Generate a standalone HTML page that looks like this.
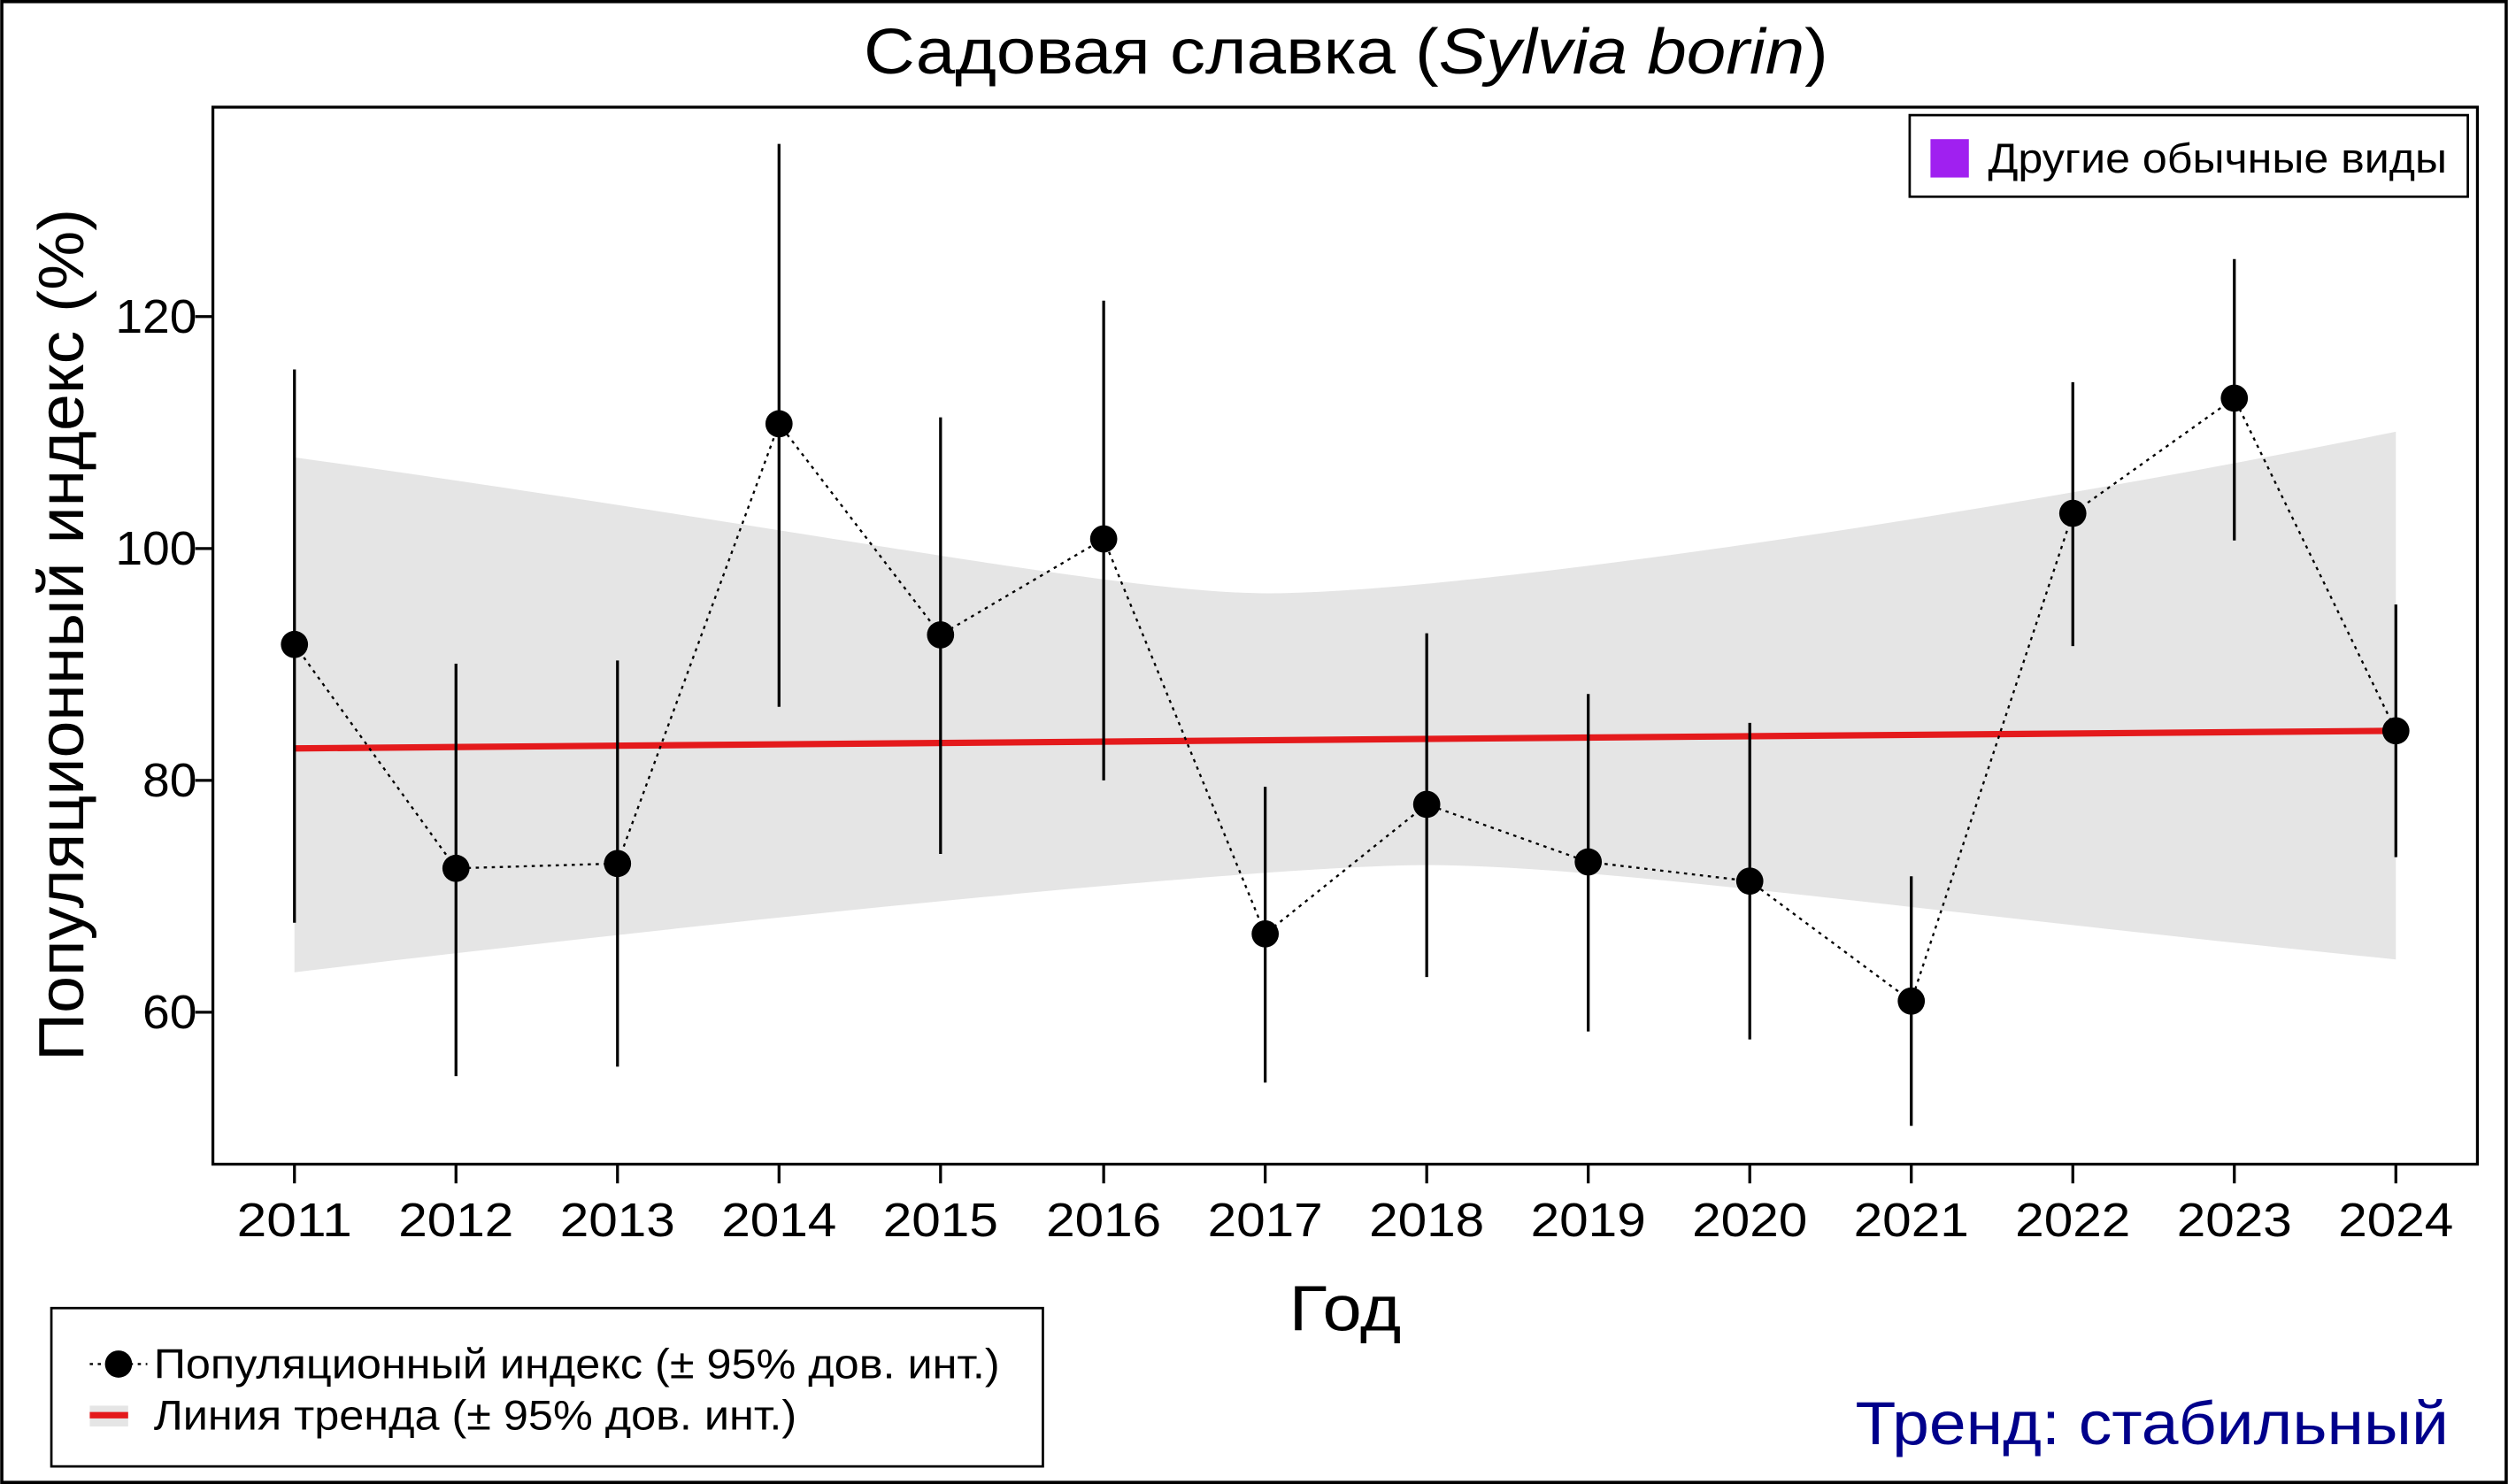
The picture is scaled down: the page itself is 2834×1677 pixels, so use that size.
<!DOCTYPE html>
<html><head><meta charset="utf-8"><style>html,body{margin:0;padding:0;background:#fff}svg{display:block}</style></head>
<body>
<svg xmlns="http://www.w3.org/2000/svg" width="2834" height="1677" viewBox="0 0 1568 928" font-family="Liberation Sans, DejaVu Sans, sans-serif">
<rect x="0" y="0" width="1568" height="928" fill="#fff"/>
<rect x="1" y="1" width="1566" height="926" fill="none" stroke="#000" stroke-width="2"/>
<text x="540" y="46" font-size="40" textLength="603" lengthAdjust="spacingAndGlyphs">Садовая славка (<tspan font-style="italic">Sylvia borin</tspan>)</text>
<path d="M184,286 C500,330 700,371 792,371 C900,371 1200,330 1498,270 L1498,600 C1200,570 1000,541 892,541 C800,541 500,570 184,608 Z" fill="#e5e5e5"/>
<line x1="184" y1="468" x2="1498" y2="457" stroke="#e41a1c" stroke-width="4"/>
<polyline points="184,403 285,543 386,540 487,265 588,397 690,337 791,584 892,503 993,539 1094,551 1195,626 1296,321 1397,249 1498,457" fill="none" stroke="#000" stroke-width="1.3" stroke-dasharray="2,3"/>
<g stroke="#000" stroke-width="1.8">
<line x1="184" y1="231" x2="184" y2="577"/>
<line x1="285" y1="415" x2="285" y2="673"/>
<line x1="386" y1="413" x2="386" y2="667"/>
<line x1="487" y1="90" x2="487" y2="442"/>
<line x1="588" y1="261" x2="588" y2="534"/>
<line x1="690" y1="188" x2="690" y2="488"/>
<line x1="791" y1="492" x2="791" y2="677"/>
<line x1="892" y1="396" x2="892" y2="611"/>
<line x1="993" y1="434" x2="993" y2="645"/>
<line x1="1094" y1="452" x2="1094" y2="650"/>
<line x1="1195" y1="548" x2="1195" y2="704"/>
<line x1="1296" y1="239" x2="1296" y2="404"/>
<line x1="1397" y1="162" x2="1397" y2="338"/>
<line x1="1498" y1="378" x2="1498" y2="536"/>
</g>
<g fill="#000">
<circle cx="184" cy="403" r="8.5"/><circle cx="285" cy="543" r="8.5"/><circle cx="386" cy="540" r="8.5"/><circle cx="487" cy="265" r="8.5"/><circle cx="588" cy="397" r="8.5"/><circle cx="690" cy="337" r="8.5"/><circle cx="791" cy="584" r="8.5"/><circle cx="892" cy="503" r="8.5"/><circle cx="993" cy="539" r="8.5"/><circle cx="1094" cy="551" r="8.5"/><circle cx="1195" cy="626" r="8.5"/><circle cx="1296" cy="321" r="8.5"/><circle cx="1397" cy="249" r="8.5"/><circle cx="1498" cy="457" r="8.5"/>
</g>
<rect x="133" y="67" width="1416" height="661" fill="none" stroke="#000" stroke-width="1.8"/>
<g stroke="#000" stroke-width="1.8">
<line x1="122" y1="198" x2="133" y2="198"/><line x1="122" y1="343" x2="133" y2="343"/><line x1="122" y1="488" x2="133" y2="488"/><line x1="122" y1="633" x2="133" y2="633"/>
</g>
<g font-size="30" text-anchor="end">
<text x="123" y="208" textLength="51" lengthAdjust="spacingAndGlyphs">120</text><text x="123" y="353" textLength="51" lengthAdjust="spacingAndGlyphs">100</text><text x="123" y="498" textLength="34" lengthAdjust="spacingAndGlyphs">80</text><text x="123" y="643" textLength="34" lengthAdjust="spacingAndGlyphs">60</text>
</g>
<text transform="translate(52,397) rotate(-90)" font-size="40" text-anchor="middle" textLength="533" lengthAdjust="spacingAndGlyphs">Популяционный индекс (%)</text>
<g stroke="#000" stroke-width="1.8">
<line x1="184" y1="728" x2="184" y2="740"/><line x1="285" y1="728" x2="285" y2="740"/><line x1="386" y1="728" x2="386" y2="740"/><line x1="487" y1="728" x2="487" y2="740"/><line x1="588" y1="728" x2="588" y2="740"/><line x1="690" y1="728" x2="690" y2="740"/><line x1="791" y1="728" x2="791" y2="740"/><line x1="892" y1="728" x2="892" y2="740"/><line x1="993" y1="728" x2="993" y2="740"/><line x1="1094" y1="728" x2="1094" y2="740"/><line x1="1195" y1="728" x2="1195" y2="740"/><line x1="1296" y1="728" x2="1296" y2="740"/><line x1="1397" y1="728" x2="1397" y2="740"/><line x1="1498" y1="728" x2="1498" y2="740"/>
</g>
<g font-size="30" text-anchor="middle" lengthAdjust="spacingAndGlyphs">
<text x="184" y="773" textLength="72" lengthAdjust="spacingAndGlyphs">2011</text><text x="285" y="773" textLength="72" lengthAdjust="spacingAndGlyphs">2012</text><text x="386" y="773" textLength="72" lengthAdjust="spacingAndGlyphs">2013</text><text x="487" y="773" textLength="72" lengthAdjust="spacingAndGlyphs">2014</text><text x="588" y="773" textLength="72" lengthAdjust="spacingAndGlyphs">2015</text><text x="690" y="773" textLength="72" lengthAdjust="spacingAndGlyphs">2016</text><text x="791" y="773" textLength="72" lengthAdjust="spacingAndGlyphs">2017</text><text x="892" y="773" textLength="72" lengthAdjust="spacingAndGlyphs">2018</text><text x="993" y="773" textLength="72" lengthAdjust="spacingAndGlyphs">2019</text><text x="1094" y="773" textLength="72" lengthAdjust="spacingAndGlyphs">2020</text><text x="1195" y="773" textLength="72" lengthAdjust="spacingAndGlyphs">2021</text><text x="1296" y="773" textLength="72" lengthAdjust="spacingAndGlyphs">2022</text><text x="1397" y="773" textLength="72" lengthAdjust="spacingAndGlyphs">2023</text><text x="1498" y="773" textLength="72" lengthAdjust="spacingAndGlyphs">2024</text>
</g>
<text x="806" y="832" font-size="40" textLength="70" lengthAdjust="spacingAndGlyphs">Год</text>
<rect x="1194" y="72" width="349" height="51" fill="#fff" stroke="#000" stroke-width="1.5"/>
<rect x="1207" y="87" width="24" height="24" fill="#a020f0"/>
<text x="1243" y="108" font-size="26" textLength="287" lengthAdjust="spacingAndGlyphs">Другие обычные виды</text>
<rect x="32" y="818" width="620" height="99" fill="#fff" stroke="#000" stroke-width="1.5"/>
<line x1="56" y1="853" x2="92" y2="853" stroke="#000" stroke-width="1.3" stroke-dasharray="2,3"/>
<circle cx="74" cy="853" r="8.5" fill="#000"/>
<text x="96" y="862" font-size="26" textLength="529" lengthAdjust="spacingAndGlyphs">Популяционный индекс (± 95% дов. инт.)</text>
<rect x="56" y="879" width="24" height="13" fill="#e5e5e5"/>
<line x1="56" y1="885" x2="80" y2="885" stroke="#e41a1c" stroke-width="4"/>
<text x="96" y="894" font-size="26" textLength="402" lengthAdjust="spacingAndGlyphs">Линия тренда (± 95% дов. инт.)</text>
<text x="1160" y="903" font-size="38" fill="#00008b" textLength="371" lengthAdjust="spacingAndGlyphs">Тренд: стабильный</text>
</svg>
</body></html>
